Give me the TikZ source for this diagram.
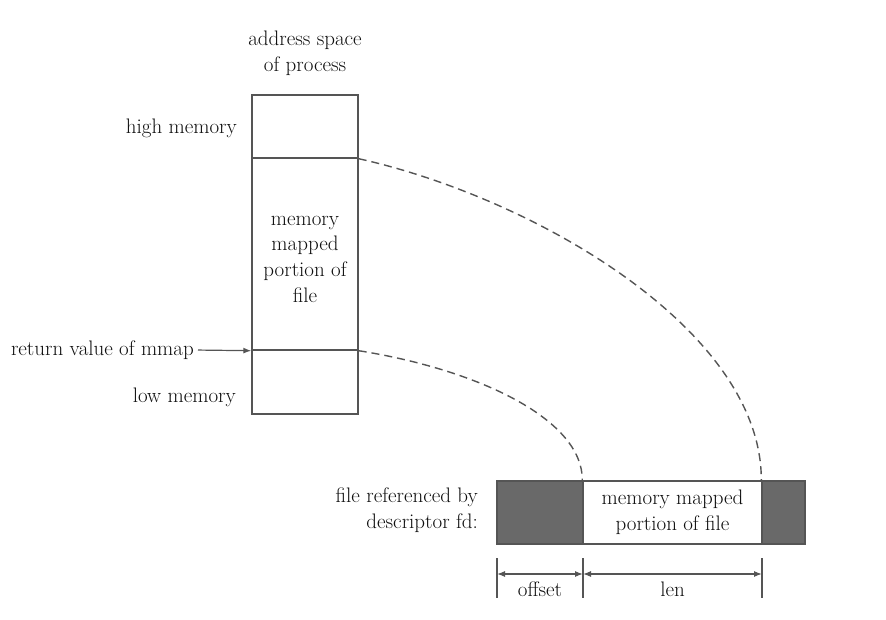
\documentclass[tikz,border=0pt]{standalone}
\usetikzlibrary{arrows.meta}
\definecolor{lc}{RGB}{85,85,85}
\definecolor{fc}{RGB}{105,105,105}
\definecolor{tc}{RGB}{15,15,15}
\begin{document}
\begin{tikzpicture}[x=1pt,y=-1pt,
  every node/.style={font=\rmfamily\fontsize{21}{25.7}\selectfont, text=tc, inner sep=0pt},
  cell/.style={draw=lc, line width=1.4pt, minimum width=106pt},
  seg/.style={draw=lc, line width=1.4pt, minimum height=63pt},
  darkseg/.style={seg, fill=fc},
  conn/.style={draw=lc, line width=1.4pt, dash pattern=on 8pt off 5pt},
  dim/.style={draw=lc, line width=1.2pt},
  tip/.style={{Latex[length=8pt,width=6pt]}-{Latex[length=8pt,width=6pt]}}
]
\useasboundingbox (0,0) rectangle (886,619);

% title
\node[align=center] (title) at (305,53) {address space\\of process};

% process address space column
\node[cell, minimum height=63pt] (hi) at (305,126.5) {};
\node[cell, minimum height=192pt] (mid) at (305,254) {};
\node[cell, minimum height=64pt] (lo) at (305,382) {};
\node[align=center] (midtxt) at (305,259) {memory\\mapped\\portion of\\file};

\node[anchor=east] (hil) at (237,128) {high memory};
\node[anchor=east] (lol) at (236,397) {low memory};
\node[anchor=east] (ret) at (194,350) {return value of mmap};
\draw[dim, -{Latex[length=8pt,width=6pt]}, shorten <=4pt] (ret.east) -- (mid.south west);

% file bar
\node[darkseg, minimum width=86pt] (lft) at (540,512.5) {};
\node[seg, minimum width=179pt, fill=white, align=center] (mm) at (672.5,512.5) {memory mapped\\portion of file};
\node[darkseg, minimum width=43pt] (rgt) at (783.5,512.5) {};
\node[anchor=east, align=right] (fl) at (478,510) {file referenced by\\descriptor fd:};

% dashed mapping curves
\draw[conn] (hi.south east) .. controls (535,198) and (762,330) .. (rgt.north west);
\draw[conn] (mid.south east) .. controls (480,370) and (583,420) .. (mm.north west);

% dimension lines
\coordinate (t1a) at (497,558); \coordinate (t1b) at (497,598);
\coordinate (t2a) at (583,558); \coordinate (t2b) at (583,598);
\coordinate (t3a) at (762,558); \coordinate (t3b) at (762,598);
\draw[dim] (t1a) -- (t1b);
\draw[dim] (t2a) -- (t2b);
\draw[dim] (t3a) -- (t3b);
\coordinate (d1) at (497,574); \coordinate (d2) at (583,574); \coordinate (d3) at (762,574);
\draw[dim, tip] (d1) -- (d2);
\draw[dim, tip] (d2) -- (d3);
\node (off) at (540,589) {offset};
\node (len) at (672.5,589) {len};
\end{tikzpicture}
\end{document}
